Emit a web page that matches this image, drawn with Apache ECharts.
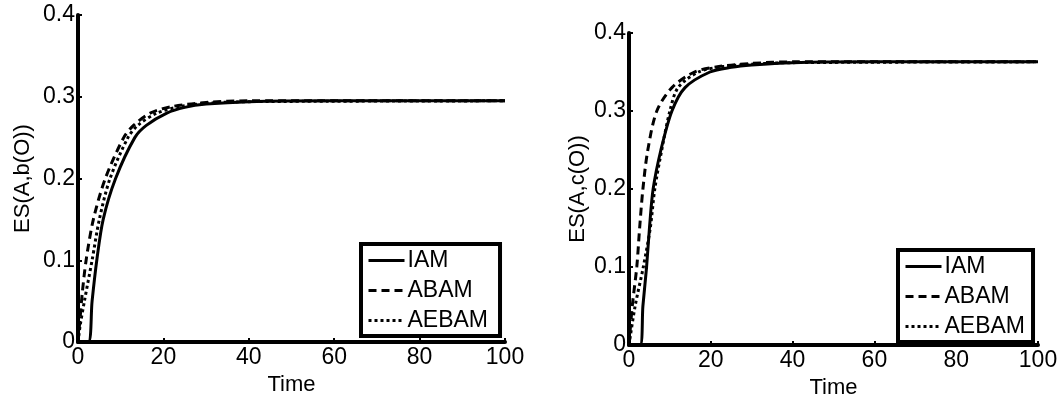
<!DOCTYPE html>
<html>
<head>
<meta charset="utf-8">
<script src="https://cdn.jsdelivr.net/npm/echarts@6/dist/echarts.min.js"></script>
<style>
  html, body { margin: 0; padding: 0; background: #fff; }
  #chart { width: 1061px; height: 396px; }
</style>
</head>
<body>
<div id="chart"></div>
<script>
// values as [time, ES] pairs
const leftIAM = [[0, 0], [2.4, 0], [3.3, 0.05], [4.4, 0.1], [5.9, 0.15], [8.8, 0.2], [13.3, 0.25], [16, 0.265], [20.8, 0.28], [25, 0.287], [30, 0.291], [40, 0.294], [60, 0.295], [100, 0.295]];
const leftABAM = [[0, 0], [0.5, 0.03], [1.0, 0.06], [1.9, 0.1], [3.6, 0.15], [6.4, 0.2], [10.7, 0.25], [13, 0.265], [16.9, 0.28], [22, 0.288], [30, 0.293], [40, 0.295], [100, 0.295]];
const leftAEBAM = [[0, 0], [0.5, 0.02], [1.5, 0.05], [3.3, 0.1], [5.0, 0.15], [7.5, 0.2], [11.7, 0.25], [14, 0.265], [18.5, 0.28], [24, 0.288], [30, 0.292], [40, 0.294], [100, 0.295]];

const rightIAM = [[0, 0], [2.7, 0], [3.4, 0.05], [4.3, 0.1], [5.0, 0.15], [5.9, 0.2], [7.8, 0.25], [10.5, 0.3], [13.7, 0.33], [19.8, 0.35], [25, 0.356], [30, 0.359], [40, 0.362], [60, 0.363], [100, 0.363]];
const rightABAM = [[0, 0], [0.8, 0.05], [1.9, 0.1], [2.6, 0.15], [3.4, 0.2], [4.6, 0.25], [6.8, 0.3], [10.5, 0.33], [16, 0.35], [22, 0.357], [30, 0.361], [40, 0.363], [100, 0.363]];
const rightAEBAM = [[0, 0], [1.5, 0.05], [3.5, 0.1], [5.2, 0.15], [6.3, 0.2], [8.0, 0.25], [10.0, 0.3], [12, 0.33], [17, 0.35], [23, 0.357], [30, 0.36], [40, 0.362], [100, 0.363]];

const seriesNames = ["IAM", "ABAM", "AEBAM"];
const yTitles = ["ES(A,b(O))", "ES(A,c(O))"];
const xTitle = "Time";

const font = "'Liberation Sans', Arial, Helvetica, sans-serif";
const dashTypes = ["solid", [8, 5], [3, 3]];

const chart = echarts.init(document.getElementById("chart"), null, { renderer: "canvas" });

function xAxis(gridIndex) {
  return {
    gridIndex,
    type: "value",
    min: 0,
    max: 100,
    interval: 20,
    name: xTitle,
    nameLocation: "middle",
    nameGap: 29,
    nameTextStyle: { color: "#000", fontSize: 22, fontFamily: font },
    axisLine: { lineStyle: { color: "#000", width: 4 } },
    axisTick: { inside: true, length: 4, lineStyle: { color: "#000", width: 2 } },
    axisLabel: { color: "#000", fontSize: 23, fontFamily: font, margin: 4 },
    splitLine: { show: false },
  };
}

function yAxis(gridIndex, gap) {
  return {
    gridIndex,
    type: "value",
    min: 0,
    max: 0.4,
    interval: 0.1,
    name: yTitles[gridIndex],
    nameLocation: "middle",
    nameGap: gap,
    nameTextStyle: { color: "#000", fontSize: 22, fontFamily: font },
    axisLine: { lineStyle: { color: "#000", width: 4 } },
    axisTick: { inside: true, length: 4, lineStyle: { color: "#000", width: 2 } },
    axisLabel: {
      color: "#000", fontSize: 23, fontFamily: font, margin: 3,
      formatter: (v) => (v === 0 ? "0" : v.toFixed(1)),
    },
    splitLine: { show: false },
  };
}

function line(name, data, idx, gridIndex) {
  return {
    name,
    type: "line",
    data,
    xAxisIndex: gridIndex,
    yAxisIndex: gridIndex,
    smooth: 0.3,
    symbol: "none",
    z: 1,
    lineStyle: { color: "#000", width: 3, type: dashTypes[idx] },
    itemStyle: { color: "#000" },
  };
}

function legend(left, top, right) {
  return {
    orient: "vertical",
    left,
    top,
    data: seriesNames,
    selectedMode: false,
    backgroundColor: "#fff",
    borderColor: "#000",
    borderWidth: 4,
    borderRadius: 0,
    padding: [5, right, 4, 6],
    itemGap: 7,
    itemWidth: 36,
    itemHeight: 14,
    itemStyle: { opacity: 0 },
    lineStyle: { width: 3 },
    textStyle: { color: "#000", fontSize: 23, fontFamily: font, padding: [0, 0, 0, -2] },
  };
}

chart.setOption({
  animation: false,
  backgroundColor: "#fff",
  grid: [
    { left: 78, right: 556, top: 15, bottom: 54, outerBoundsMode: "none" },
    { left: 629, right: 23, top: 33, bottom: 51, outerBoundsMode: "none" },
  ],
  xAxis: [xAxis(0), xAxis(1)],
  yAxis: [yAxis(0, 44), yAxis(1, 40)],
  legend: [legend(361, 244, 12), legend(898, 250, 8)],
  series: [
    line("IAM", leftIAM, 0, 0),
    line("ABAM", leftABAM, 1, 0),
    line("AEBAM", leftAEBAM, 2, 0),
    line("IAM", rightIAM, 0, 1),
    line("ABAM", rightABAM, 1, 1),
    line("AEBAM", rightAEBAM, 2, 1),
  ],
});
</script>
</body>
</html>
